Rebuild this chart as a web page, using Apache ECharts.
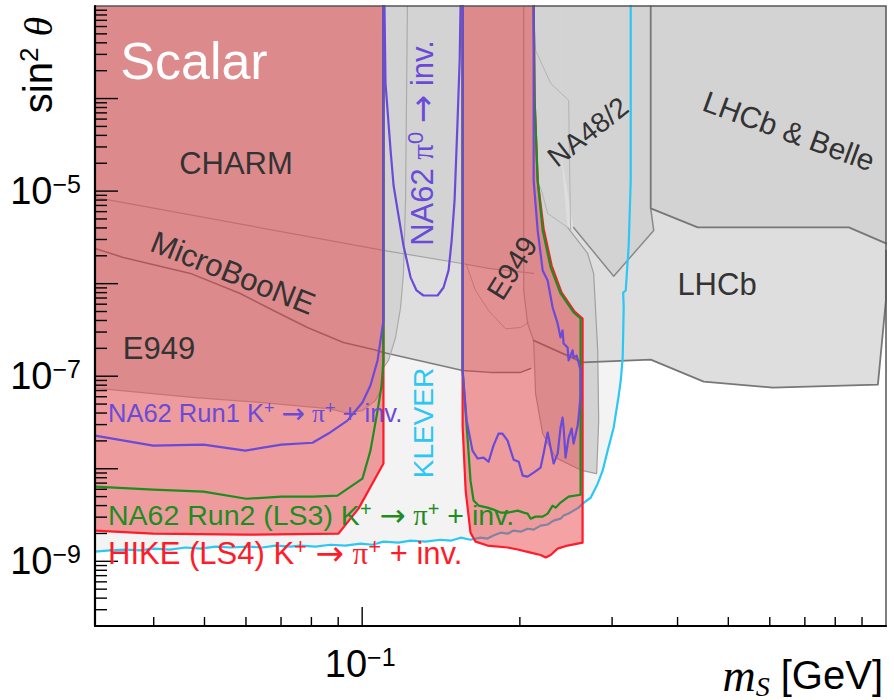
<!DOCTYPE html>
<html>
<head>
<meta charset="utf-8">
<script src="https://cdn.jsdelivr.net/npm/echarts@6/dist/echarts.min.js"></script>
<style>
  html, body { margin: 0; padding: 0; background: #ffffff; }
  #chart { width: 894px; height: 700px; }
</style>
</head>
<body>
<div id="chart"></div>
<script>
// ---------------------------------------------------------------------------
// Dark scalar S mixing with the Higgs: sin^2(theta) versus m_S [GeV]
// ---------------------------------------------------------------------------

// axis extents
const M_MIN = 0.0309, M_MAX = 1.0;     // m_S [GeV]
const S_MIN = 2e-10,  S_MAX = 1e-3;    // sin^2 theta

// tick values and tick labels
const xMajorTicks = [0.1];
const xMinorTicks = [0.04, 0.05, 0.06, 0.07, 0.08, 0.09, 0.2, 0.3, 0.4, 0.5, 0.6, 0.7, 0.8, 0.9];
const yMajorTicks = [1e-9, 1e-8, 1e-7, 1e-6, 1e-5, 1e-4];
const yMinorMantissas = [2, 3, 4, 5, 6, 7, 8, 9];
const yMinorDecades = [1e-10, 1e-9, 1e-8, 1e-7, 1e-6, 1e-5, 1e-4];
const xTickLabels = [{ value: 0.1, exp: '\u22121' }];
const yTickLabels = [
  { value: 1e-9, exp: '\u22129' },
  { value: 1e-7, exp: '\u22127' },
  { value: 1e-5, exp: '\u22125' }
];

// ---- existing bounds (grey) : [m_S, sin^2 theta] --------------------------
const charm = [
  [0.0309, 1e-3], [0.2191, 1e-3], [0.2191, 1.23e-6],
  [0.2125, 1.29e-6], [0.1743, 1.46e-6], [0.1541, 1.66e-6], [0.1098, 2.29e-6], [0.0309, 8.55e-6]
];
const microBooNE = [
  [0.0309, 1e-3], [0.2125, 1e-3], [0.2125, 1.21e-7],
  [0.2097, 1.21e-7], [0.2007, 1.10e-7], [0.1758, 1.10e-7], [0.1555, 1.15e-7], [0.1098, 1.80e-7],
  [0.1051, 1.94e-7], [0.0921, 2.31e-7], [0.0786, 3.36e-7], [0.0677, 5.13e-7], [0.0585, 7.83e-7],
  [0.0470, 1.29e-6], [0.0350, 1.92e-6], [0.0309, 2.40e-6]
];
const e949Low = [
  [0.0309, 1e-3],
  [0.1220, 1e-3], [0.1210, 7.93e-6], [0.1199, 1.29e-6], [0.1184, 5.53e-7], [0.1158, 2.62e-7],
  [0.1123, 1.48e-7], [0.1098, 1.24e-7], [0.1093, 7.54e-8], [0.1060, 5.45e-8], [0.1001, 4.25e-8],
  [0.0929, 4.05e-8], [0.0862, 4.47e-8], [0.0645, 5.19e-8], [0.0480, 5.88e-8], [0.0309, 7.45e-8]
];
const e949High = [
  [0.1583, 1.57e-6], [0.1646, 8.44e-7], [0.1743, 5.13e-7], [0.1878, 3.25e-7], [0.2007, 3.36e-7], [0.2078, 3.81e-7]
];
const e949Strip = [
  [0.2392, 1e-3], [0.2392, 2.75e-5],
  [0.2467, 4.05e-6], [0.2578, 2.93e-6], [0.2694, 2.12e-6], [0.2766, 1.29e-6], [0.2816, 1.90e-7],
  [0.2828, 3.31e-8], [0.2803, 8.85e-9], [0.2635, 9.53e-9], [0.2555, 1.03e-8], [0.2340, 1.32e-8],
  [0.2211, 2.40e-8], [0.2143, 6.49e-8], [0.2125, 2.43e-7], [0.2069, 3.72e-7], [0.2034, 8.44e-7],
  [0.2034, 1e-3]
];
const na48 = [
  [0.2392, 1e-3], [0.3555, 1e-3], [0.3555, 6.50e-6],
  [0.3602, 3.76e-6], [0.3021, 1.20e-6], [0.2533, 4.05e-6],
  [0.2392, 2.75e-5]
];
const na48EdgeA = [[0.2125, 1e-3], [0.2143, 3.32e-4], [0.2290, 1.46e-4], [0.2478, 9.57e-5], [0.2500, 3.76e-6]];
const na48EdgeB = [[0.2191, 1.10e-5], [0.2260, 5.74e-6], [0.2467, 4.05e-6]];
const lhcb = [
  [1.0, 1e-3], [0.2125, 1e-3],
  [0.2125, 2.43e-7], [0.2635, 1.41e-7], [0.3555, 1.51e-7], [0.4487, 8.75e-8], [0.6080, 7.54e-8],
  [0.9650, 8.12e-8], [0.9995, 6.58e-7], [1.0, 2.29e-6]
];
const lhcbBelle = [
  [1.0, 1e-3],
  [0.3555, 1e-3], [0.3555, 6.50e-6], [0.4371, 4.05e-6], [0.8494, 4.05e-6], [1.0, 2.72e-6]
];

// ---- projections -----------------------------------------------------------
const klever = [
  [0.0309, 1.27e-9], [0.0330, 1.31e-9], [0.0353, 1.34e-9], [0.0377, 1.31e-9], [0.0399, 1.37e-9],
  [0.0430, 1.34e-9], [0.0460, 1.41e-9], [0.0491, 1.37e-9], [0.0525, 1.44e-9], [0.0560, 1.41e-9],
  [0.0604, 1.44e-9], [0.0645, 1.41e-9], [0.0683, 1.48e-9], [0.0729, 1.44e-9], [0.0762, 1.48e-9],
  [0.0814, 1.44e-9], [0.0870, 1.51e-9], [0.0929, 1.48e-9], [0.0993, 1.55e-9], [0.1046, 1.51e-9],
  [0.1098, 1.63e-9], [0.1173, 1.59e-9], [0.1237, 1.67e-9], [0.1321, 1.63e-9], [0.1411, 1.71e-9],
  [0.1475, 1.67e-9], [0.1541, 1.80e-9], [0.1610, 1.71e-9], [0.1683, 1.80e-9], [0.1735, 1.76e-9],
  [0.1781, 1.90e-9], [0.1837, 2.04e-9], [0.1895, 1.99e-9], [0.1946, 2.15e-9], [0.2007, 2.09e-9],
  [0.2069, 2.25e-9], [0.2125, 2.20e-9], [0.2191, 2.43e-9], [0.2260, 2.50e-9], [0.2320, 2.75e-9],
  [0.2392, 2.89e-9], [0.2424, 3.12e-9], [0.2478, 3.28e-9], [0.2533, 3.53e-9], [0.2589, 3.80e-9],
  [0.2635, 4.20e-9], [0.2730, 4.86e-9], [0.2816, 6.90e-9], [0.2878, 9.53e-9], [0.2942, 1.57e-8],
  [0.3021, 2.79e-8], [0.3088, 6.18e-8], [0.3116, 8.97e-8], [0.3143, 1.59e-7], [0.3157, 5.53e-7],
  [0.3150, 8.00e-7], [0.3185, 8.44e-7], [0.3227, 2.59e-6], [0.3256, 1.30e-5], [0.3256, 1e-3]
];
const hikeLow = [
  [0.0309, 2.15e-9], [0.0399, 1.99e-9], [0.0598, 1.94e-9], [0.0901, 1.99e-9], [0.0984, 3.71e-9],
  [0.1098, 1.14e-8], [0.1098, 1e-3]
];
const hikeHigh = [
  [0.1555, 1e-3], [0.1555, 2.92e-8], [0.1576, 5.79e-9], [0.1610, 2.04e-9], [0.1646, 1.63e-9],
  [0.1735, 1.48e-9], [0.1895, 1.41e-9], [0.1981, 1.34e-9], [0.2097, 1.24e-9], [0.2191, 1.17e-9],
  [0.2240, 1.10e-9], [0.2290, 1.17e-9], [0.2361, 1.37e-9], [0.2467, 1.48e-9], [0.2635, 1.59e-9],
  [0.2635, 4.20e-7], [0.2544, 5.00e-7], [0.2402, 8.03e-7], [0.2300, 1.57e-6], [0.2220, 3.95e-6],
  [0.2163, 1.30e-5], [0.2134, 9.57e-5], [0.2125, 1e-3]
];
const run2Low = [
  [0.0309, 6.42e-9], [0.0399, 5.96e-9], [0.0498, 5.67e-9], [0.0601, 4.74e-9], [0.0702, 4.99e-9],
  [0.0804, 4.99e-9], [0.0897, 5.13e-9], [0.1001, 7.81e-9], [0.1037, 1.57e-8], [0.1070, 4.25e-8],
  [0.1089, 7.93e-8], [0.1098, 1.48e-7], [0.1098, 1e-3]
];
const run2High = [
  [0.1555, 1e-3], [0.1555, 1.15e-7], [0.1589, 2.17e-8], [0.1610, 7.43e-9], [0.1632, 4.53e-9],
  [0.1668, 4.00e-9], [0.1735, 3.80e-9], [0.1781, 3.62e-9], [0.1837, 3.36e-9], [0.1895, 3.36e-9],
  [0.1981, 3.53e-9], [0.2034, 3.36e-9], [0.2069, 3.28e-9], [0.2097, 2.89e-9], [0.2143, 3.04e-9],
  [0.2211, 3.04e-9], [0.2260, 3.28e-9], [0.2310, 4.00e-9], [0.2340, 3.80e-9], [0.2392, 4.31e-9],
  [0.2478, 4.99e-9], [0.2612, 5.24e-9], [0.2612, 4.20e-7], [0.2533, 4.88e-7], [0.2392, 7.83e-7],
  [0.2290, 1.50e-6], [0.2211, 3.76e-6], [0.2163, 1.30e-5], [0.2134, 9.57e-5], [0.2125, 1e-3]
];
const run1Low = [
  [0.0309, 2.28e-8], [0.0399, 1.78e-8], [0.0498, 1.82e-8], [0.0598, 1.57e-8], [0.0701, 1.82e-8],
  [0.0804, 1.91e-8], [0.0862, 2.40e-8], [0.0937, 3.31e-8], [0.1001, 5.19e-8], [0.1037, 7.93e-8],
  [0.1070, 1.48e-7], [0.1098, 4.00e-7], [0.1098, 1e-3]
];
const run1High = [
  [0.1555, 1e-3], [0.1555, 1.15e-7], [0.1583, 3.31e-8], [0.1624, 1.57e-8], [0.1661, 1.29e-8],
  [0.1705, 1.32e-8], [0.1743, 1.19e-8], [0.1781, 1.78e-8], [0.1821, 2.40e-8], [0.1853, 2.40e-8],
  [0.1895, 2.01e-8], [0.1946, 1.25e-8], [0.1990, 1.19e-8], [0.2025, 8.42e-9], [0.2069, 8.21e-9],
  [0.2125, 9.07e-9], [0.2191, 1.03e-8], [0.2220, 1.46e-8], [0.2260, 2.46e-8], [0.2290, 1.69e-8],
  [0.2320, 1.14e-8], [0.2361, 1.46e-8], [0.2392, 2.79e-8], [0.2413, 3.57e-8], [0.2424, 2.79e-8],
  [0.2445, 1.32e-8], [0.2478, 2.17e-8], [0.2511, 2.72e-8], [0.2533, 1.87e-8], [0.2578, 2.92e-8],
  [0.2589, 3.57e-8], [0.2612, 6.18e-8], [0.2612, 1.15e-7], [0.2589, 1.41e-7], [0.2566, 1.67e-7],
  [0.2533, 1.59e-7], [0.2522, 1.90e-7], [0.2478, 1.48e-7], [0.2467, 2.04e-7], [0.2424, 2.26e-7],
  [0.2413, 3.12e-7], [0.2392, 2.62e-7], [0.2361, 3.72e-7], [0.2310, 5.53e-7], [0.2260, 1.08e-6],
  [0.2211, 1.39e-6], [0.2163, 3.76e-6], [0.2125, 1.30e-5], [0.2125, 1e-3]
];
const na62Pi0 = [
  [0.1103, 1e-3], [0.1108, 1.46e-4], [0.1133, 2.75e-5], [0.1148, 1.15e-5], [0.1173, 5.46e-6],
  [0.1199, 2.59e-6], [0.1237, 1.17e-6], [0.1270, 8.44e-7], [0.1309, 7.45e-7], [0.1393, 7.45e-7],
  [0.1430, 9.09e-7], [0.1462, 1.39e-6], [0.1482, 2.93e-6], [0.1501, 7.93e-6], [0.1521, 5.81e-5],
  [0.1535, 2.59e-4], [0.1541, 1e-3]
];

// ---- colours ---------------------------------------------------------------
const C = {
  klever: '#f3f3f3', light: '#dedede', grey: '#d3d3d3',
  hikeFill: 'rgba(232,48,56,0.45)',
  red: '#ff1c2a', green: '#1f8c1f', purple: '#6a4bd8', cyan: '#2cc7f4', text: '#333333'
};
const SANS = '"Liberation Sans", Arial, Helvetica, sans-serif';
const SERIF = '"Liberation Serif", "Times New Roman", serif';
const ARROW = '"DejaVu Sans", sans-serif';

// ---- series builders -------------------------------------------------------
function region(pts, fill, z) {
  return {
    type: 'custom', coordinateSystem: 'cartesian2d', silent: true, clip: true, z: z,
    data: [pts[0]],
    renderItem: function (params, api) {
      return {
        type: 'polygon',
        shape: { points: pts.map(function (p) { return api.coord(p); }) },
        style: { fill: fill, stroke: null }
      };
    }
  };
}
function curve(pts, color, width, z) {
  return {
    type: 'line', data: pts, symbol: 'none', silent: true, z: z, clip: true,
    lineStyle: { color: color, width: width, cap: 'round', join: 'round' }
  };
}
function ticks(values, onY, len) {
  return {
    type: 'custom', coordinateSystem: 'cartesian2d', silent: true, clip: false, z: 12,
    data: values.map(function (v) { return onY ? [M_MIN, v] : [v, S_MIN]; }),
    renderItem: function (params, api) {
      const p = api.coord([api.value(0), api.value(1)]);
      const shape = onY ? { x1: p[0], y1: p[1], x2: p[0] + len, y2: p[1] }
                        : { x1: p[0], y1: p[1], x2: p[0], y2: p[1] - len };
      return { type: 'line', shape: shape, style: { stroke: '#000', lineWidth: 1.4 } };
    }
  };
}
const powRich = {
  b: { fontSize: 38, fontFamily: SANS, fill: '#000', lineHeight: 40 },
  e: { fontSize: 25, fontFamily: SANS, fill: '#000', lineHeight: 24, verticalAlign: 'top' }
};
function tickLabels(list, onY) {
  return {
    type: 'custom', coordinateSystem: 'cartesian2d', silent: true, clip: false, z: 12,
    data: list.map(function (t) { return onY ? [M_MIN, t.value] : [t.value, S_MIN]; }),
    renderItem: function (params, api) {
      const p = api.coord([api.value(0), api.value(1)]);
      const t = list[params.dataIndex];
      return {
        type: 'text',
        x: onY ? p[0] - 14 : p[0] - 2,
        y: onY ? p[1] : p[1] + 38,
        style: {
          text: '{b|10}{e|' + t.exp + '}', rich: powRich,
          align: onY ? 'right' : 'center', verticalAlign: 'middle'
        }
      };
    }
  };
}

const yMinorTicks = [];
yMinorDecades.forEach(function (d) {
  yMinorMantissas.forEach(function (k) {
    const v = k * d;
    if (v > S_MIN * 1.01 && v < S_MAX * 0.99) yMinorTicks.push(v);
  });
});

// ---- labels ----------------------------------------------------------------
function richSet(size, color) {
  return {
    n: { fontSize: size, fontFamily: SANS, fill: color, lineHeight: Math.round(size * 1.15) },
    p: { fontSize: size, fontFamily: SERIF, fill: color, lineHeight: Math.round(size * 1.15) },
    r: { fontSize: Math.round(size * 1.1), fontFamily: ARROW, fill: color, lineHeight: Math.round(size * 1.15) },
    s: { fontSize: Math.round(size * 0.7), fontFamily: SANS, fill: color,
         lineHeight: Math.round(size * 0.72), verticalAlign: 'top' }
  };
}
function label(text, x, y, size, color, deg, align) {
  return {
    type: 'text', x: x, y: y, rotation: (deg || 0) * Math.PI / 180, z: 20, silent: true,
    style: { text: text, rich: richSet(size, color), fill: color,
             font: 'normal ' + size + 'px ' + SANS,
             align: align || 'center', verticalAlign: 'middle' }
  };
}
const ARR = '{n| }{r|\u2192}{n| }';

const graphics = [
  { type: 'rect', z: 9, silent: true,
    shape: { x: 95, y: 6, width: 791, height: 620 },
    style: { fill: null, stroke: '#555555', lineWidth: 1.5 } },
  label('{n|Scalar}', 194, 61, 52, '#ffffff'),
  label('{n|CHARM}', 236, 163, 31, C.text),
  label('{n|MicroBooNE}', 233, 273, 31, C.text, -22),
  label('{n|E949}', 159, 348, 31, C.text),
  label('{n|E949}', 512, 268, 29, C.text, 58),
  label('{n|NA48/2}', 588, 132, 28, C.text, 38),
  label('{n|LHCb & Belle}', 789, 131, 30, C.text, -20),
  label('{n|LHCb}', 717, 284, 31, C.text),
  label('{n|NA62 }{p|\u03c0}{s|0}' + ARR + '{n|inv.}', 422, 143, 31, C.purple, 90),
  label('{n|KLEVER}', 423, 423, 28, C.cyan, 90),
  label('{n|NA62 Run1 K}{s|+}' + ARR + '{p|\u03c0}{s|+}{n| + inv.}', 108, 413, 25.5, C.purple, 0, 'left'),
  label('{n|NA62 Run2 (LS3) K}{s|+}' + ARR + '{p|\u03c0}{s|+}{n| + inv.}', 108, 515, 28.5, C.green, 0, 'left'),
  label('{n|HIKE (LS4) K}{s|+}' + ARR + '{p|\u03c0}{s|+}{n| + inv.}', 108, 553, 31, C.red, 0, 'left'),
  { type: 'text', x: 883, y: 675, z: 20, silent: true,
    style: {
      text: '{m|m}{u|S}{g| [GeV]}', align: 'right', verticalAlign: 'middle',
      rich: {
        m: { fontSize: 46, fontFamily: SERIF, fontStyle: 'italic', fill: '#000', lineHeight: 50 },
        u: { fontSize: 28, fontFamily: SERIF, fontStyle: 'italic', fill: '#000', lineHeight: 26, verticalAlign: 'bottom' },
        g: { fontSize: 40, fontFamily: SANS, fill: '#000', lineHeight: 50 }
      }
    } },
  { type: 'text', x: 38, y: 65, rotation: Math.PI / 2, z: 20, silent: true,
    style: {
      text: '{a|sin}{s|2}{a| }{t|\u03b8}', align: 'center', verticalAlign: 'middle',
      rich: {
        a: { fontSize: 40, fontFamily: SANS, fill: '#000', lineHeight: 44 },
        s: { fontSize: 26, fontFamily: SANS, fill: '#000', lineHeight: 26, verticalAlign: 'top' },
        t: { fontSize: 40, fontFamily: SERIF, fontStyle: 'italic', fill: '#000', lineHeight: 44 }
      }
    } }
];

// ---- chart -----------------------------------------------------------------
const chart = echarts.init(document.getElementById('chart'), null, { renderer: 'svg', width: 894, height: 700 });
chart.setOption({
  animation: false,
  backgroundColor: '#ffffff',
  grid: { left: 95, right: 8, top: 6, bottom: 74, containLabel: false },
  xAxis: {
    type: 'log', logBase: 10, min: M_MIN, max: M_MAX, z: 10,
    axisLine: { show: true, onZero: false, lineStyle: { color: '#000', width: 2.2 } },
    axisTick: { show: false }, axisLabel: { show: false }, splitLine: { show: false }
  },
  yAxis: {
    type: 'log', logBase: 10, min: S_MIN, max: S_MAX, z: 10,
    axisLine: { show: true, onZero: false, lineStyle: { color: '#000', width: 2.2 } },
    axisTick: { show: false }, axisLabel: { show: false }, splitLine: { show: false }
  },
  series: [
    // filled areas, back to front
    region(klever.concat([[M_MIN, S_MAX]]), C.klever, 1),
    region(microBooNE, C.light, 1),
    region(lhcb, C.light, 1),
    region(e949Low, C.grey, 1),
    region(charm, C.grey, 1),
    region(e949Strip, C.grey, 1),
    region(na48, C.grey, 1),
    region(lhcbBelle, C.grey, 1),
    // outlines of the existing bounds
    curve(charm.slice(3), '#a3a3a3', 1.2, 3),
    curve(microBooNE.slice(3), '#7d7d7d', 1.5, 3),
    curve(e949Low.slice(1), '#ababab', 1.2, 3),
    curve(e949High, '#ababab', 1.0, 3),
    curve(e949Strip.slice(2), '#a0a0a0', 1.2, 3),
    curve(na48EdgeA, '#b3b3b3', 1.0, 3),
    curve(na48EdgeB, '#b3b3b3', 1.0, 3),
    curve(na48.slice(2, 6), '#8a8a8a', 1.5, 3),
    curve(lhcb.slice(2), '#777777', 1.8, 3),
    curve(lhcbBelle.slice(1), '#777777', 1.8, 3),
    // KLEVER reach
    curve(klever, C.cyan, 2.2, 4),
    // HIKE (LS4) excluded windows
    region(hikeLow.concat([[M_MIN, S_MAX]]), C.hikeFill, 5),
    region(hikeHigh, C.hikeFill, 5),
    // contour lines: HIKE, NA62 Run2, NA62 Run1 (front)
    curve(hikeLow, C.red, 2.2, 6),
    curve(hikeHigh, C.red, 2.2, 6),
    curve(run2Low, C.green, 2.2, 7),
    curve(run2High, C.green, 2.2, 7),
    curve(run1Low, C.purple, 2.2, 8),
    curve(run1High, C.purple, 2.2, 8),
    curve(na62Pi0, C.purple, 2.2, 8),
    // axis ticks and labels
    ticks(yMajorTicks, true, 23),
    ticks(yMinorTicks, true, 12),
    ticks(xMajorTicks, false, 19),
    ticks(xMinorTicks, false, 9),
    tickLabels(yTickLabels, true),
    tickLabels(xTickLabels, false)
  ],
  graphic: { elements: graphics }
});
</script>
</body>
</html>
